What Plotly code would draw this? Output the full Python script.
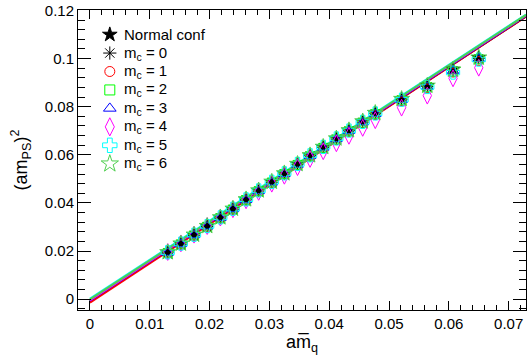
import plotly.graph_objects as go

# Quark mass values (common to every configuration set)
amq = [0.0130, 0.0152, 0.0174, 0.0196, 0.0218, 0.0239, 0.0261, 0.0282, 0.0304,
       0.0325, 0.0347, 0.0368, 0.0390, 0.0412, 0.0433, 0.0456, 0.0477, 0.0521,
       0.0564, 0.0607, 0.0650]

# Squared pseudoscalar mass per configuration set
y_normal = [0.0194, 0.0230, 0.0267, 0.0303, 0.0339, 0.0375, 0.0414, 0.0451, 0.0487,
            0.0522, 0.0561, 0.0597, 0.0632, 0.0667, 0.0701, 0.0738, 0.0773, 0.0831,
            0.0887, 0.0955, 0.1004]
y_mc0 = [0.0193, 0.0229, 0.0266, 0.0302, 0.0338, 0.0374, 0.0413, 0.0450, 0.0486,
         0.0521, 0.0560, 0.0596, 0.0631, 0.0666, 0.0700, 0.0736, 0.0771, 0.0829,
         0.0884, 0.0951, 0.1001]
y_mc1 = [0.0191, 0.0227, 0.0264, 0.0300, 0.0336, 0.0372, 0.0410, 0.0447, 0.0483,
         0.0518, 0.0556, 0.0592, 0.0627, 0.0661, 0.0695, 0.0731, 0.0765, 0.0822,
         0.0876, 0.0942, 0.0990]
y_mc2 = [0.0192, 0.0228, 0.0265, 0.0301, 0.0337, 0.0373, 0.0412, 0.0449, 0.0485,
         0.0520, 0.0558, 0.0594, 0.0629, 0.0664, 0.0698, 0.0734, 0.0769, 0.0827,
         0.0881, 0.0946, 0.0997]
y_mc3 = [0.0193, 0.0229, 0.0266, 0.0302, 0.0338, 0.0374, 0.0412, 0.0449, 0.0485,
         0.0520, 0.0559, 0.0595, 0.0630, 0.0665, 0.0699, 0.0735, 0.0770, 0.0828,
         0.0883, 0.0949, 0.0999]
y_mc4 = [0.0196, 0.0232, 0.0268, 0.0304, 0.0339, 0.0374, 0.0411, 0.0446, 0.0480,
         0.0513, 0.0549, 0.0583, 0.0615, 0.0648, 0.0679, 0.0712, 0.0744, 0.0796,
         0.0846, 0.0918, 0.0962]
y_mc5 = [0.0195, 0.0231, 0.0268, 0.0304, 0.0340, 0.0376, 0.0415, 0.0452, 0.0488,
         0.0523, 0.0562, 0.0598, 0.0633, 0.0668, 0.0701, 0.0737, 0.0772, 0.0829,
         0.0882, 0.0942, 0.0996]
y_mc6 = [0.0195, 0.0231, 0.0268, 0.0304, 0.0340, 0.0376, 0.0415, 0.0452, 0.0488,
         0.0523, 0.0562, 0.0598, 0.0633, 0.0668, 0.0702, 0.0739, 0.0774, 0.0832,
         0.0887, 0.0954, 0.1004]

series_names = ["Normal conf", "m<sub>c</sub> = 0", "m<sub>c</sub> = 1",
                "m<sub>c</sub> = 2", "m<sub>c</sub> = 3", "m<sub>c</sub> = 4",
                "m<sub>c</sub> = 5", "m<sub>c</sub> = 6"]
series_values = [y_normal, y_mc0, y_mc1, y_mc2, y_mc3, y_mc4, y_mc5, y_mc6]
series_colors = ["#000000", "#000000", "#ff0000", "#00ff00", "#0000ff",
                 "#ff00ff", "#00ffff", "#4fcf4f"]
series_symbols = ["star", "asterisk-open", "circle-open", "square-open",
                  "triangle-up-open", "diamond-tall-open", "cross-open", "star-open"]
series_sizes = [10, 10, 9, 9, 10, 12, 11, 12]

# Linear chiral fits: (intercept, slope) per configuration set
fit_intercepts = [-0.0009, -0.0009, -0.0014, -0.0003, -0.0006, -0.0005, 0.0002, -0.0001]
fit_slopes = [1.625, 1.625, 1.630, 1.622, 1.624, 1.625, 1.620, 1.622]
fit_x = [0.0, 0.0729]

FONT = "Liberation Sans"

# Key box layout (fractions of the plotting area)
KEY_SYMBOL_X = 0.071
KEY_TEXT_X = 0.098
KEY_TOP_Y = 0.918
KEY_STEP_Y = 0.0615

fig = go.Figure()

for b, m, c in zip(fit_intercepts, fit_slopes, series_colors):
    fig.add_trace(go.Scatter(
        x=fit_x, y=[b + m * xv for xv in fit_x], mode="lines",
        line=dict(color=c, width=2), showlegend=False, hoverinfo="skip"))

for name, vals, col, sym, sz in zip(series_names, series_values, series_colors,
                                    series_symbols, series_sizes):
    fig.add_trace(go.Scatter(
        x=amq, y=vals, mode="markers", name=name, showlegend=False,
        marker=dict(symbol=sym, size=sz, color=col,
                    line=dict(color=col, width=1))))

# Key: symbols on an overlay axis spanning the plot area, labels as annotations
for i, (name, col, sym, sz) in enumerate(zip(series_names, series_colors,
                                             series_symbols, series_sizes)):
    ky = KEY_TOP_Y - i * KEY_STEP_Y
    fig.add_trace(go.Scatter(
        x=[KEY_SYMBOL_X], y=[ky], xaxis="x2", yaxis="y2", mode="markers",
        showlegend=False, hoverinfo="skip",
        marker=dict(symbol=sym, size=sz + 1, color=col,
                    line=dict(color=col, width=1))))
    fig.add_annotation(
        x=KEY_TEXT_X, y=ky, xref="paper", yref="paper", text=name,
        showarrow=False, xanchor="left", yanchor="middle",
        font=dict(family=FONT, size=15, color="black"))

axis_font = dict(family=FONT, size=15, color="black")

fig.update_layout(
    width=529, height=360,
    margin=dict(l=78, r=2, t=5, b=50),
    paper_bgcolor="white", plot_bgcolor="white",
    font=axis_font,
    showlegend=False,
    xaxis=dict(
        range=[-0.002, 0.0729], tick0=0, dtick=0.01,
        ticks="inside", ticklen=9, tickcolor="black", tickwidth=1,
        minor=dict(dtick=0.002, ticks="inside", ticklen=5, tickcolor="black"),
        showline=True, linecolor="black", linewidth=1, mirror="allticks",
        showgrid=False, zeroline=False, tickfont=axis_font,
        title=dict(text="am\u0305<sub>q</sub>",
                   font=dict(family=FONT, size=18), standoff=0)),
    yaxis=dict(
        range=[-0.0045, 0.1202], tick0=0, dtick=0.02,
        ticks="inside", ticklen=13, tickcolor="black", tickwidth=1,
        minor=dict(dtick=0.004, ticks="inside", ticklen=7, tickcolor="black"),
        showline=True, linecolor="black", linewidth=1, mirror="allticks",
        showgrid=False, zeroline=False, tickfont=axis_font,
        ticklabeloverflow="allow",
        title=dict(text="(am<sub>PS</sub>)<sup>2</sup>",
                   font=dict(family=FONT, size=18), standoff=12)),
    xaxis2=dict(range=[0, 1], overlaying="x", visible=False, fixedrange=True),
    yaxis2=dict(range=[0, 1], overlaying="y", visible=False, fixedrange=True),
)

fig.write_html("out.html")
